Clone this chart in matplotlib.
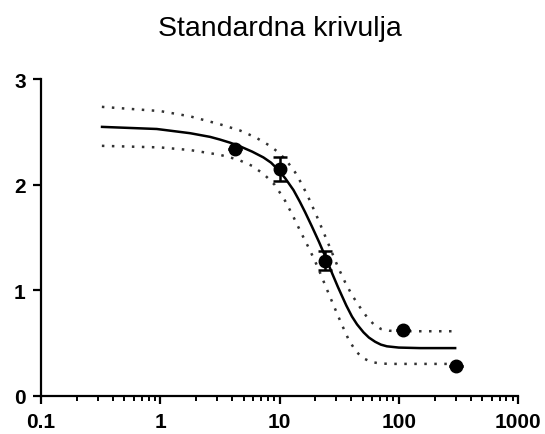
import matplotlib.pyplot as plt
from matplotlib.ticker import FixedLocator, LogLocator, NullFormatter

plt.rcParams['font.family'] = ['Liberation Sans', 'DejaVu Sans']

# izmjerene tocke (srednja vrijednost, greska)
konc = [4.25, 10, 24.2, 108, 302]
odziv = [2.34, 2.15, 1.28, 0.62, 0.283]
greska_gore = [0.0, 0.11, 0.09, 0.0, 0.0]
greska_dolje = [0.0, 0.11, 0.09, 0.0, 0.0]

# krivulja ocitana sa slike
kriv_x = [0.325, 0.935, 1.78, 2.62, 3.16, 3.85, 4.67, 5.9, 7.33, 8.5, 9.8, 11.2, 13.1, 14.8,
          16.4, 18.6, 21.4, 24.2, 27.5, 30.9, 33.4, 36.3, 40.5, 44.7, 50.6, 56.2, 63.4,
          70.8, 79.5, 100, 151, 297]
kriv_y = [2.55, 2.53, 2.49, 2.455, 2.43, 2.40, 2.365, 2.315, 2.26, 2.21, 2.14, 2.06, 1.95, 1.84,
          1.74, 1.61, 1.46, 1.32, 1.165, 1.03, 0.945, 0.855, 0.75, 0.675, 0.60, 0.55, 0.51,
          0.483, 0.467, 0.455, 0.45, 0.45]

# granice pouzdanosti (tockaste)
gore_x = [0.324, 1.0, 1.78, 3.16, 4.68, 6.31, 8.32, 10.0, 11.7, 13.5, 15.5, 17.8, 20.4, 23.4,
          26.9, 30.9, 35.5, 40.7, 46.8, 53.7, 61.7, 70.8, 83.2, 100, 282]
gore_y = [2.74, 2.70, 2.65, 2.575, 2.515, 2.45, 2.37, 2.30, 2.215, 2.12, 2.00, 1.86, 1.71, 1.55,
          1.385, 1.22, 1.075, 0.95, 0.845, 0.75, 0.675, 0.632, 0.615, 0.61, 0.61]
dolje_x = [0.324, 1.0, 1.78, 3.16, 4.47, 5.89, 7.41, 9.12, 11.0, 12.9, 15.1, 17.8, 20.9, 24.5,
           28.8, 33.1, 38.0, 43.7, 50.1, 58.9, 70.8, 89.1, 257]
dolje_y = [2.37, 2.355, 2.33, 2.285, 2.24, 2.18, 2.10, 2.00, 1.86, 1.71, 1.55, 1.39, 1.22, 1.03,
           0.84, 0.68, 0.53, 0.42, 0.355, 0.318, 0.303, 0.30, 0.30]

fig = plt.figure(figsize=(5.45, 4.35), dpi=100)
ax = fig.add_axes([0.0752, 0.0885, 0.8753, 0.7265])

ax.plot(kriv_x, kriv_y, color='black', lw=1.8, zorder=3)
ax.plot(gore_x, gore_y, color='#333333', lw=1.8, ls=(0, (1, 3)), zorder=2)
ax.plot(dolje_x, dolje_y, color='#333333', lw=1.8, ls=(0, (1, 3)), zorder=2)
ax.errorbar(konc, odziv, yerr=[greska_dolje, greska_gore], fmt='o', color='black',
            ms=9, elinewidth=1.8, capsize=5, capthick=1.8, zorder=4)

ax.set_xscale('log')
ax.set_xlim(0.1, 1000)
ax.set_ylim(0, 3)
ax.xaxis.set_major_locator(FixedLocator([0.1, 1, 10, 100, 1000]))
ax.set_xticklabels(['0.1', '1', '10', '100', '1000'])
ax.xaxis.set_minor_locator(LogLocator(base=10, subs=range(2, 10)))
ax.xaxis.set_minor_formatter(NullFormatter())
ax.set_yticks([0, 1, 2, 3])

for s in ['top', 'right']:
    ax.spines[s].set_visible(False)
for s in ['left', 'bottom']:
    ax.spines[s].set_linewidth(1.6)
ax.tick_params(axis='both', which='major', length=6, width=1.6, direction='out',
               labelsize=15)
ax.tick_params(axis='x', which='major', pad=6)
ax.tick_params(axis='y', which='major', pad=5)
ax.tick_params(axis='x', which='minor', length=3.5, width=1.4, direction='out')
for lab in ax.get_xticklabels() + ax.get_yticklabels():
    lab.set_fontweight('bold')

fig.text(0.514, 1 - 29 / 435, 'Standardna krivulja', ha='center', va='center', fontsize=20.5)

fig.savefig('out.png', dpi=100)
